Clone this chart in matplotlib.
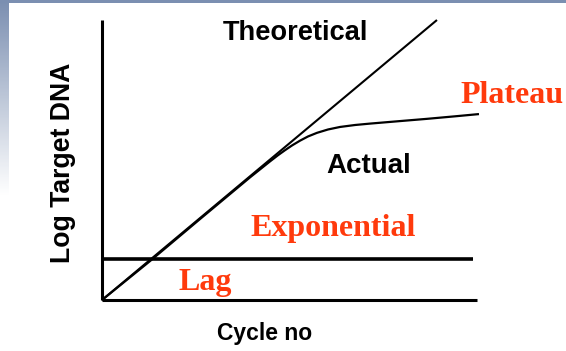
import numpy as np
import matplotlib
matplotlib.use("Agg")
import matplotlib.pyplot as plt
from matplotlib.colors import LinearSegmentedColormap

# ---- data (cycle number vs log target DNA) ----
theory_x = [0.0, 35.73]
theory_y = [0.0, 10.0]

actual_x = [0.0, 5.12, 10.45, 15.79, 17.92, 18.77, 19.52, 20.27, 21.12, 21.97,
            22.93, 24.11, 25.39, 26.99, 28.59, 31.79, 34.67, 37.65, 40.21]
actual_y = [0.0, 1.39, 2.89, 4.38, 4.95, 5.17, 5.35, 5.52, 5.69, 5.84,
            5.97, 6.09, 6.18, 6.25, 6.30, 6.39, 6.47, 6.56, 6.64]

lag_level = 1.46
lag_x = [0.0, 39.57]

x_max = 40.0
y_max = 10.0

RED = "#ff3a0c"
SANS = "Liberation Sans"
SERIF = "Liberation Serif"

W, H = 566, 351
fig = plt.figure(figsize=(W / 100, H / 100), dpi=100)
fig.patch.set_facecolor("white")

# decorative slide background: top band and left gradient
band = fig.add_axes([0, 1 - 3 / H, 1, 3 / H])
band.set_facecolor("#7b8fb1")
band.set_xticks([]); band.set_yticks([])
for s in band.spines.values():
    s.set_visible(False)

grad = fig.add_axes([0, 0, 9 / W, 1])
g = np.linspace(0, 1, 256).reshape(-1, 1)
cmap = LinearSegmentedColormap.from_list("g", ["#7b8fb1", "#ffffff"])
grad.imshow(np.clip(g * H / 195, 0, 1), aspect="auto", cmap=cmap, vmin=0, vmax=1,
            extent=[0, 1, 1, 0])
grad.set_axis_off()

ax = fig.add_axes([102 / W, (H - 300) / H, 375 / W, 280 / H])
ax.set_xlim(0, x_max)
ax.set_ylim(0, y_max)
ax.set_facecolor("none")
for side in ("top", "right"):
    ax.spines[side].set_visible(False)
for side in ("left", "bottom"):
    ax.spines[side].set_linewidth(2.2)
    ax.spines[side].set_capstyle("butt")
ax.set_xticks([]); ax.set_yticks([])

ax.plot(theory_x, theory_y, color="black", lw=1.5, solid_capstyle="butt", clip_on=False)
ax.plot(actual_x, actual_y, color="black", lw=1.6, solid_capstyle="butt",
        solid_joinstyle="round", clip_on=False)
ax.plot(lag_x, [lag_level, lag_level], color="black", lw=2.6, solid_capstyle="butt", clip_on=False)

ax.text(20.6, 9.29, "Theoretical", ha="center", va="baseline", fontsize=19.6,
        fontweight="bold", family=SANS, color="black")
ax.text(23.9, 4.54, "Actual", ha="left", va="baseline", fontsize=20,
        fontweight="bold", family=SANS, color="black")
ax.text(38.19, 7.04, "Plateau", ha="left", va="baseline", fontsize=23,
        fontweight="bold", family=SERIF, color=RED)
ax.text(15.8, 2.29, "Exponential", ha="left", va="baseline", fontsize=23,
        fontweight="bold", family=SERIF, color=RED)
ax.text(8.21, 0.36, "Lag", ha="left", va="baseline", fontsize=23,
        fontweight="bold", family=SERIF, color=RED)

ax.text(17.33, -1.43, "Cycle no", ha="center", va="baseline", fontsize=16.5,
        fontweight="bold", family=SANS, color="black")
ax.text(-4.16, 4.89, "Log Target DNA", ha="center", va="center", rotation=90,
        fontsize=19.2, fontweight="bold", family=SANS, color="black")

fig.savefig("out.png", dpi=100)
